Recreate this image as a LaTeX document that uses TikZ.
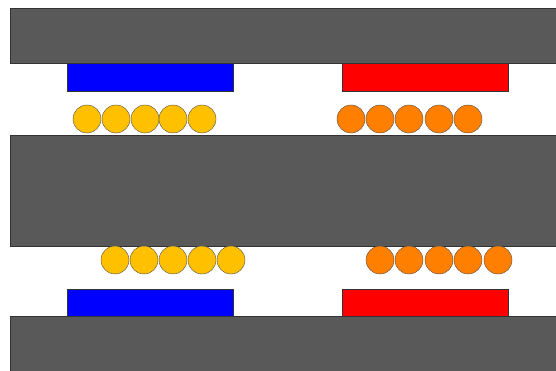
\documentclass[tikz,border=0pt]{standalone}
\definecolor{slab}{RGB}{89,89,89}
\definecolor{ballY}{RGB}{255,192,0}
\definecolor{ballO}{RGB}{255,128,0}
\definecolor{padB}{RGB}{0,0,255}
\definecolor{padR}{RGB}{255,0,0}
\tikzset{
  slabbox/.style={fill=slab,draw=black!80,line width=0.4pt},
  pad/.style={draw=black!80,line width=0.4pt},
  ball/.style={draw=black!70,line width=0.4pt},
}
\begin{document}
\begin{tikzpicture}[x=1pt,y=-1pt]
\useasboundingbox[fill=white] (0,0) rectangle (556,371);
% slabs
\fill[slab] (10,8) rectangle (556,63);
\draw[black!80,line width=0.4pt] (556,8) -- (10,8) -- (10,63) -- (556,63);
\fill[slab] (10,135) rectangle (556,246);
\draw[black!80,line width=0.4pt] (556,135) -- (10,135) -- (10,246) -- (556,246);
\fill[slab] (10,316) rectangle (556,371);
\draw[black!80,line width=0.4pt] (556,316) -- (10,316) -- (10,371);
% pads
\draw[pad,fill=padB] (67,63) rectangle (233,91);
\draw[pad,fill=padR] (342,63) rectangle (508,91);
\draw[pad,fill=padB] (67,289) rectangle (233,316);
\draw[pad,fill=padR] (342,289) rectangle (508,316);
% balls
\foreach \x in {87,116,145,173,202} \draw[ball,fill=ballY] (\x,119) circle (14);
\foreach \x in {351,380,409,439,468} \draw[ball,fill=ballO] (\x,119) circle (14);
\foreach \x in {115,144,173,202,231} \draw[ball,fill=ballY] (\x,260) circle (14);
\foreach \x in {380,409,439,468,498} \draw[ball,fill=ballO] (\x,260) circle (14);
\end{tikzpicture}
\end{document}
